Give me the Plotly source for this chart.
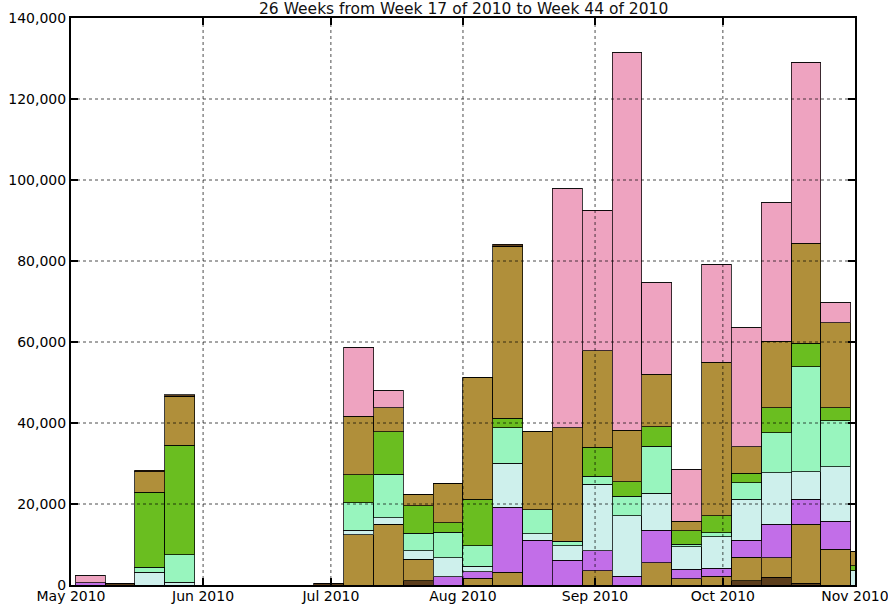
import plotly.graph_objects as go

# Week start dates (Sundays)
weeks = ["2010-05-02", "2010-05-09", "2010-05-16", "2010-05-23", "2010-05-30",
         "2010-06-06", "2010-06-13", "2010-06-20", "2010-06-27", "2010-07-04",
         "2010-07-11", "2010-07-18", "2010-07-25", "2010-08-01", "2010-08-08",
         "2010-08-15", "2010-08-22", "2010-08-29", "2010-09-05", "2010-09-12",
         "2010-09-19", "2010-09-26", "2010-10-03", "2010-10-10", "2010-10-17",
         "2010-10-24", "2010-10-31"]

dark_low = [0, 400, 0, 0, 0, 0, 0, 0, 400, 0, 0, 1060, 0, 0, 0,
            0, 0, 0, 0, 0, 0, 0, 990, 1900, 400, 0, 0]
olive_low = [0, 0, 0, 0, 0, 0, 0, 0, 0, 12400, 14990, 5360, 0, 1650, 3210,
             0, 0, 3530, 0, 5510, 1560, 2220, 5850, 4840, 14590, 8810, 0]
purple = [600, 0, 0, 0, 0, 0, 0, 0, 0, 0, 0, 0, 2050, 1630, 15970,
          10990, 6170, 4940, 2220, 8070, 2390, 1900, 4270, 8250, 6170, 6990, 0]
cyan = [0, 0, 3140, 700, 0, 0, 0, 0, 0, 1160, 1630, 2050, 4740, 1410, 10870,
        1700, 3530, 16420, 14820, 9060, 5510, 7810, 10120, 12740, 6810, 13410, 3530]
mint = [0, 0, 1300, 6770, 0, 0, 0, 0, 0, 6740, 10710, 4290, 6250, 4990, 8790,
        5830, 1160, 2020, 4930, 11680, 590, 980, 4030, 9870, 25930, 11360, 0]
green = [0, 0, 18450, 27000, 0, 0, 0, 0, 0, 6910, 10520, 6870, 2340, 11480, 2320,
         0, 0, 7090, 3530, 4760, 3360, 4130, 2320, 6180, 5780, 3210, 1240]
olive_up = [0, 0, 5090, 12100, 0, 0, 0, 0, 0, 14400, 5930, 2840, 9730, 30120, 42470,
            19330, 27980, 23850, 12770, 13020, 2390, 37950, 6570, 16460, 24690, 20980, 3450]
pink = [1700, 0, 0, 0, 0, 0, 0, 0, 0, 17040, 4190, 0, 0, 0, 0,
        0, 59010, 34740, 93160, 22540, 12840, 24190, 29380, 34150, 44690, 4940, 0]
dark_top = [0, 0, 400, 400, 0, 0, 0, 0, 0, 0, 0, 0, 0, 0, 490,
            0, 0, 0, 0, 0, 0, 0, 0, 0, 0, 0, 0]

series = [
    ("Series A", dark_low, "#5c3e1c"),
    ("Series B", olive_low, "#b08f3a"),
    ("Series C", purple, "#c26ee8"),
    ("Series D", cyan, "#cef0ec"),
    ("Series E", mint, "#98f5be"),
    ("Series F", green, "#6abe20"),
    ("Series G", olive_up, "#b08f3a"),
    ("Series H", pink, "#eea3c0"),
    ("Series I", dark_top, "#5c3e1c"),
]

month_ticks = ["2010-05-01", "2010-06-01", "2010-07-01", "2010-08-01",
               "2010-09-01", "2010-10-01", "2010-11-01"]
month_labels = ["May 2010", "Jun 2010", "Jul 2010", "Aug 2010",
                "Sep 2010", "Oct 2010", "Nov 2010"]
y_ticks = [0, 20000, 40000, 60000, 80000, 100000, 120000, 140000]

WEEK_MS = 7 * 24 * 3600 * 1000

fig = go.Figure()
for name, vals, color in series:
    fig.add_trace(go.Bar(
        x=weeks, y=vals, name=name,
        width=[WEEK_MS] * len(weeks), offset=0,
        marker=dict(color=color, line=dict(color="rgba(0,0,0,0.75)", width=1)),
        showlegend=False,
    ))

# dotted grid drawn above the bars (matplotlib style)
shapes = []
for yv in y_ticks[1:-1]:
    shapes.append(dict(type="line", xref="paper", yref="y", x0=0, x1=1, y0=yv, y1=yv,
                       line=dict(color="rgba(0,0,0,0.7)", width=1, dash="dot"), layer="above"))
for xv in month_ticks[1:-1]:
    shapes.append(dict(type="line", xref="x", yref="paper", x0=xv, x1=xv, y0=0, y1=1,
                       line=dict(color="rgba(0,0,0,0.7)", width=1, dash="dot"), layer="above"))

fig.update_layout(
    width=888, height=605,
    margin=dict(l=71, r=33, t=18, b=20),
    barmode="stack",
    plot_bgcolor="white", paper_bgcolor="white",
    font=dict(family="DejaVu Sans", size=14, color="black"),
    shapes=shapes,
    annotations=[dict(text="26 Weeks from Week 17 of 2010 to Week 44 of 2010",
                      xref="paper", yref="paper", x=0.5, y=1, xanchor="center",
                      yanchor="bottom", yshift=-2, showarrow=False,
                      font=dict(family="DejaVu Sans", size=15.5, color="#111"))],
)
fig.update_xaxes(
    type="date", range=["2010-05-01", "2010-11-01 00:20"],
    tickvals=month_ticks, ticktext=month_labels,
    ticks="inside", ticklen=7, tickwidth=2, tickcolor="black",
    showline=True, linecolor="black", linewidth=2, mirror="allticks",
    showgrid=False, zeroline=False, layer="above traces", automargin=False,
    ticklabeloverflow="allow", ticklabelstandoff=-3,
)
fig.update_yaxes(
    range=[0, 140000], tickvals=y_ticks, tickformat=",d",
    ticks="inside", ticklen=7, tickwidth=2, tickcolor="black",
    showline=True, linecolor="black", linewidth=2, mirror="allticks",
    showgrid=False, zeroline=False, layer="above traces", automargin=False,
    ticklabeloverflow="allow",
)

fig.write_html(
    "out.html",
    config={"displayModeBar": False},
    post_script="document.body.style.margin='0';document.body.style.overflow='hidden';",
)
